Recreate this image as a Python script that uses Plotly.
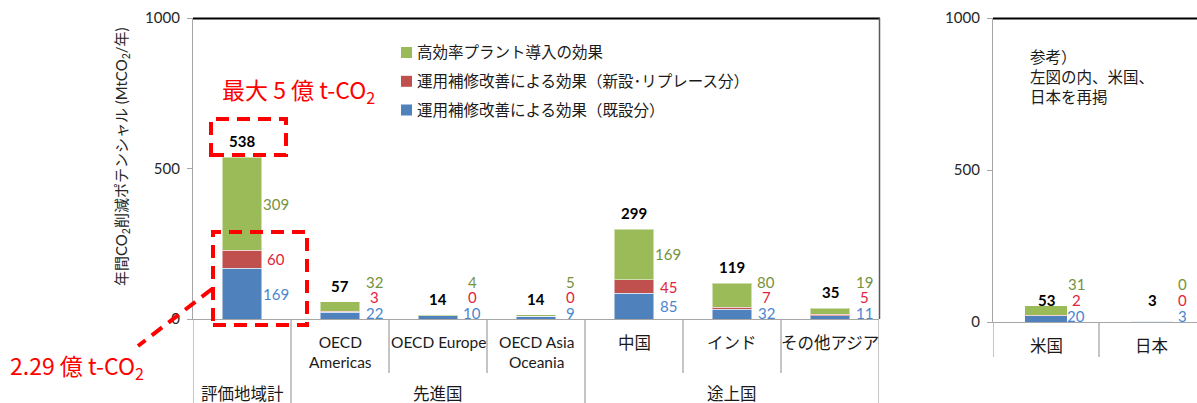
import plotly.graph_objects as go

# ---------------- data ----------------
left_categories = ["評価地域計", "OECD<br>Americas", "OECD Europe", "OECD Asia<br>Oceania", "中国", "インド", "その他アジア"]
left_groups = ["評価地域計", "先進国", "先進国", "先進国", "途上国", "途上国", "途上国"]
left_high_efficiency = [309, 32, 4, 5, 169, 80, 19]
left_new_replace = [60, 3, 0, 0, 45, 7, 5]
left_existing = [169, 22, 10, 9, 85, 32, 11]

right_categories = ["米国", "日本"]
right_high_efficiency = [31, 0]
right_new_replace = [2, 0]
right_existing = [20, 3]

series_names = ["高効率プラント導入の効果",
                "運用補修改善による効果（新設･リプレース分）",
                "運用補修改善による効果（既設分）"]
y_ticks = [0, 500, 1000]
y_title = "年間CO<sub>2</sub>削減ポテンシャル (MtCO<sub>2</sub>/年)"
note_text = "参考）<br>左図の内、米国、<br>日本を再掲"
callout_top = "最大 5 億 t-CO<sub>2</sub>"
callout_bottom = "2.29 億 t-CO<sub>2</sub>"

# ---------------- style ----------------
W, H = 1197, 403
MT = 18
PH = H - MT
GREEN, RED, BLUE = "#9BBB59", "#C0504D", "#4F81BD"
GREEN_T, RED_T, BLUE_T = "#76923C", "#E3243B", "#4A86CF"
FONT = "Lato, 'Noto Sans CJK JP', sans-serif"
JFONT = "'Noto Sans CJK JP', sans-serif"
AXIS_GRAY = "#A6A6A6"


def px(x):
    return x / W


def py(y):
    return (H - y) / PH


def cat_font_size(label):
    return 15.5 if label.isascii() else 16.5


fig = go.Figure()


def add_bars(cats, ex, nr, he, xa, ya):
    for vals, color, name in [(ex, BLUE, series_names[2]), (nr, RED, series_names[1]), (he, GREEN, series_names[0])]:
        fig.add_trace(go.Bar(x=cats, y=vals, name=name, marker=dict(color=color, line=dict(color="rgba(255,255,255,0.5)", width=1)),
                             width=0.4, xaxis=xa, yaxis=ya, showlegend=False, hoverinfo="skip"))


add_bars(left_categories, left_existing, left_new_replace, left_high_efficiency, "x", "y")
add_bars(right_categories, right_existing, right_new_replace, right_high_efficiency, "x2", "y2")

annotations = []
shapes = []


def label_positions(b, r, g, floor=20, gap=52):
    yb = max(b / 2, floor)
    yr = max(b + r / 2, yb + gap)
    yg = max(b + r + g / 2, yr + gap)
    return yb, yr, yg


def add_value_labels(ex, nr, he, xref, yref, xshift, right_panel=False):
    for i, (b, r, g) in enumerate(zip(ex, nr, he)):
        yb, yr, yg = label_positions(b, r, g)
        for val, yy, col in [(b, yb, BLUE_T), (r, yr, RED_T), (g, yg, GREEN_T)]:
            annotations.append(dict(x=i, y=yy, xref=xref, yref=yref, text=str(val), showarrow=False,
                                    xshift=xshift, xanchor="center", yanchor="middle",
                                    font=dict(family=FONT, size=15, color=col)))
        total = b + r + g
        if right_panel:
            annotations.append(dict(x=i, y=yr, xref=xref, yref=yref, text=f"<b>{total}</b>", showarrow=False,
                                    xanchor="center", yanchor="middle", font=dict(family=FONT, size=15, color="#000")))
        else:
            annotations.append(dict(x=i, y=total, xref=xref, yref=yref, text=f"<b>{total}</b>", showarrow=False,
                                    yshift=16, xanchor="center", yanchor="middle", font=dict(family=FONT, size=15, color="#000")))


add_value_labels(left_existing, left_new_replace, left_high_efficiency, "x", "y", 34)
add_value_labels(right_existing, right_new_replace, right_high_efficiency, "x2", "y2", 30, right_panel=True)

# ---- category labels (left) ----
for i, (c, g) in enumerate(zip(left_categories, left_groups)):
    if c != g:
        annotations.append(dict(x=i, y=py(331), xref="x", yref="paper", text=c, showarrow=False,
                                xanchor="center", yanchor="top", font=dict(family=FONT, size=cat_font_size(c), color="#1a1a1a")))
# group labels
groups_order = []
for i, g in enumerate(left_groups):
    if not groups_order or groups_order[-1][0] != g:
        groups_order.append([g, i, i])
    else:
        groups_order[-1][2] = i
for g, s, e in groups_order:
    annotations.append(dict(x=(s + e) / 2, y=py(394), xref="x", yref="paper", text=g, showarrow=False,
                            xanchor="center", yanchor="middle", font=dict(family=FONT, size=16.5, color="#1a1a1a")))
# separators (left)
for k in range(len(left_categories) + 1):
    edge = k == 0 or k == len(left_categories) or left_groups[k - 1] != left_groups[k]
    shapes.append(dict(type="line", xref="x", yref="paper", x0=k - 0.5, x1=k - 0.5,
                       y0=py(319), y1=py(403) if edge else py(373), line=dict(color=AXIS_GRAY, width=1.3)))

# ---- category labels (right) ----
for i, c in enumerate(right_categories):
    annotations.append(dict(x=i, y=py(346), xref="x2", yref="paper", text=c, showarrow=False,
                            xanchor="center", yanchor="middle", font=dict(family=FONT, size=16.5, color="#1a1a1a")))
for k in range(len(right_categories)):
    shapes.append(dict(type="line", xref="x2", yref="paper", x0=k - 0.5, x1=k - 0.5,
                       y0=py(322), y1=py(357), line=dict(color=AXIS_GRAY, width=1.3)))

# ---- frame lines ----
shapes.append(dict(type="line", xref="paper", yref="paper", x0=px(193), x1=px(880), y0=py(18.5), y1=py(18.5),
                   line=dict(color="#000", width=2)))
shapes.append(dict(type="line", xref="paper", yref="paper", x0=px(879.5), x1=px(879.5), y0=py(18), y1=py(319),
                   line=dict(color="#595959", width=1.5)))
shapes.append(dict(type="line", xref="paper", yref="paper", x0=px(993), x1=px(1197), y0=py(18.5), y1=py(18.5),
                   line=dict(color="#000", width=2)))

# ---- legend (manual) ----
legend_rows = [(series_names[0], GREEN, 52.5), (series_names[1], RED, 81.3), (series_names[2], BLUE, 110)]
for name, col, yy in legend_rows:
    shapes.append(dict(type="rect", xref="paper", yref="paper", x0=px(401), x1=px(412), y0=py(yy + 5.5), y1=py(yy - 5.5),
                       fillcolor=col, line=dict(width=0)))
    annotations.append(dict(x=px(415), y=py(yy), xref="paper", yref="paper", text=name, showarrow=False,
                            xanchor="left", yanchor="middle", font=dict(family=FONT, size=15.5, color="#1a1a1a")))

# ---- y axis title ----
annotations.append(dict(x=px(122), y=py(157), xref="paper", yref="paper", text=y_title, showarrow=False, textangle=-90,
                        xanchor="center", yanchor="middle", font=dict(family=FONT, size=15, color="#262626")))

# ---- right note ----
annotations.append(dict(x=px(1028), y=py(46), xref="paper", yref="paper", text=note_text, showarrow=False,
                        xanchor="left", yanchor="top", align="left", font=dict(family=FONT, size=15.5, color="#1a1a1a")))

# ---- red callouts ----
annotations.append(dict(x=px(298), y=py(91), xref="paper", yref="paper", text=callout_top, showarrow=False,
                        xanchor="center", yanchor="middle", font=dict(family=JFONT, size=23, color="#FF0000")))
annotations.append(dict(x=px(77), y=py(366), xref="paper", yref="paper", text=callout_bottom, showarrow=False,
                        xanchor="center", yanchor="middle", font=dict(family=JFONT, size=23, color="#FF0000")))
dash = dict(color="#FF0000", width=4, dash="13px,8px")
shapes.append(dict(type="rect", xref="paper", yref="paper", x0=px(211), x1=px(286), y0=py(155), y1=py(119), line=dash, layer="above"))
shapes.append(dict(type="rect", xref="paper", yref="paper", x0=px(213), x1=px(307), y0=py(325), y1=py(232), line=dash, layer="above"))
shapes.append(dict(type="line", xref="paper", yref="paper", x0=px(212), x1=px(138), y0=py(289), y1=py(346), line=dash, layer="above"))

axis_common = dict(showgrid=False, zeroline=False, fixedrange=True, automargin=False)
fig.update_layout(
    width=W, height=H,
    margin=dict(l=0, r=0, t=MT, b=0, pad=0, autoexpand=False),
    paper_bgcolor="white", plot_bgcolor="white",
    barmode="stack", showlegend=False,
    font=dict(family=FONT, color="#1a1a1a"),
    xaxis=dict(domain=[px(193), px(879)], type="category", categoryorder="array", categoryarray=left_categories,
               range=[-0.5, len(left_categories) - 0.5], showticklabels=False, ticks="",
               showline=True, linecolor=AXIS_GRAY, linewidth=1.3, anchor="y", **axis_common),
    yaxis=dict(domain=[py(319), 1], range=[0, 1000], tickvals=y_ticks, ticks="outside", ticklen=5,
               tickcolor=AXIS_GRAY, showline=True, linecolor=AXIS_GRAY, linewidth=1.3, anchor="x",
               tickfont=dict(family=FONT, size=15, color="#262626"), ticklabelstandoff=4, **axis_common),
    xaxis2=dict(domain=[px(993), 1], type="category", categoryorder="array", categoryarray=right_categories,
                range=[-0.5, -0.5 + (1197 - 993) / 106], showticklabels=False, ticks="",
                showline=True, linecolor=AXIS_GRAY, linewidth=1.3, anchor="y2", **axis_common),
    yaxis2=dict(domain=[py(322), 1], range=[0, 1000], tickvals=y_ticks, ticks="outside", ticklen=5,
                tickcolor=AXIS_GRAY, showline=True, linecolor=AXIS_GRAY, linewidth=1.3, anchor="x2",
                tickfont=dict(family=FONT, size=15, color="#262626"), ticklabelstandoff=4, **axis_common),
    annotations=annotations,
    shapes=shapes,
)

fig.write_html("out.html", config={"displayModeBar": False},
               post_script="document.body.style.margin='0';document.body.style.overflow='hidden';")
